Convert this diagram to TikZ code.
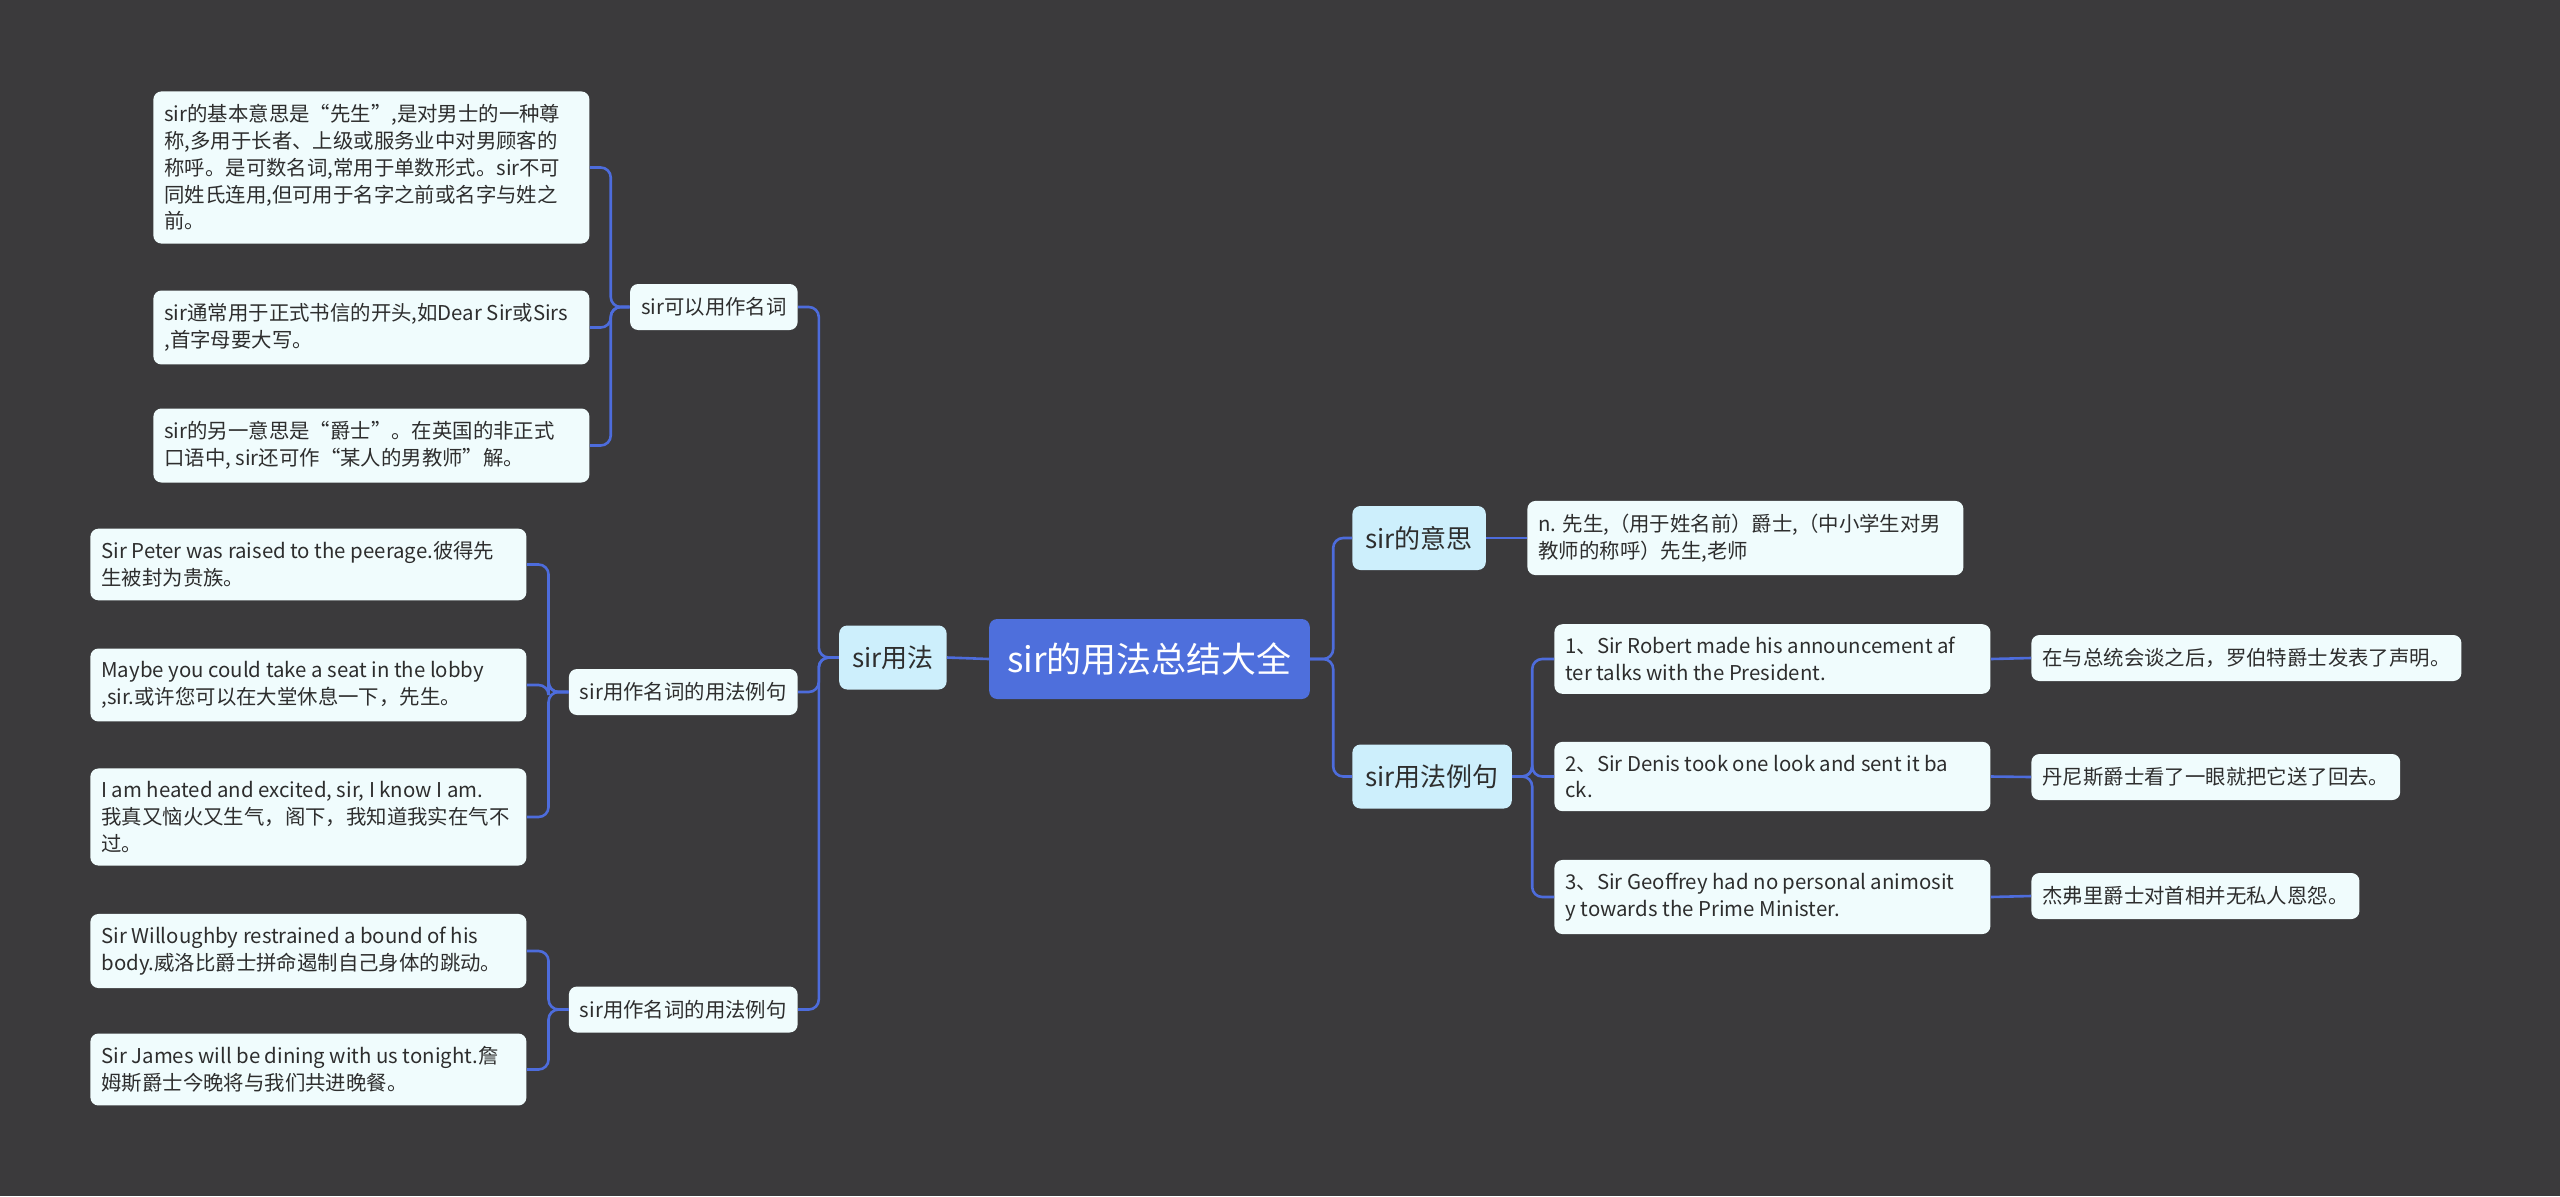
\documentclass[tikz,border=0pt]{standalone}
\usepackage{fontspec}
\setmainfont{Noto Sans CJK SC}

\definecolor{bgdark}{HTML}{3B3A3C}
\definecolor{rootblue}{HTML}{4E6FDC}
\definecolor{topicblue}{HTML}{CDEFFC}
\definecolor{leafwhite}{HTML}{F0FCFD}
\definecolor{linkblue}{HTML}{4D6CDC}
\definecolor{inkgray}{HTML}{2E2E2E}

\tikzset{
  root/.style={fill=rootblue, text=white, rounded corners=4pt, minimum height=40pt,
    inner xsep=9pt, font=\fontsize{17.5}{21}\selectfont},
  topic/.style={fill=topicblue, text=inkgray, rounded corners=4pt, minimum height=32pt,
    inner xsep=6.5pt, font=\fontsize{13}{16}\selectfont},
  sub/.style={fill=leafwhite, text=inkgray, rounded corners=4pt, minimum height=23pt,
    inner xsep=5.5pt, font=\fontsize{10.2}{13.4}\selectfont},
  leaf/.style={sub, text width=207pt, align=flush left, inner ysep=6.5pt},
  link/.style={draw=linkblue, line width=1.3pt, rounded corners=5pt},
}

\begin{document}
\begin{tikzpicture}[x=0.5pt, y=-0.5pt]
  % Background
  \fill[bgdark] (0,0) rectangle (2560,1196);
  \useasboundingbox (0,0) rectangle (2560,1196);

  % Root and main topics
  \node[root] (root) at (1149.5,659) {sir的用法总结大全};
  \node[topic, anchor=east] (usage) at (947,657.5) {sir用法};
  \node[topic, anchor=west] (meaning) at (1352,538) {sir的意思};
  \node[topic, anchor=west] (examples) at (1352,776.5) {sir用法例句};

  % Left subtopics
  \node[sub, anchor=east] (noun) at (798,307) {sir可以用作名词};
  \node[sub, anchor=east] (nounex1) at (798,692) {sir用作名词的用法例句};
  \node[sub, anchor=east] (nounex2) at (798,1009.5) {sir用作名词的用法例句};

  % Leaves under sir可以用作名词
  \node[leaf, anchor=west] (noun1) at (153,167.5) {sir的基本意思是“先生”,是对男士的一种尊\\称,多用于长者、上级或服务业中对男顾客的\\称呼。是可数名词,常用于单数形式。sir不可\\同姓氏连用,但可用于名字之前或名字与姓之\\前。};
  \node[leaf, anchor=west] (noun2) at (153,327.5) {sir通常用于正式书信的开头,如Dear Sir或Sirs\\,首字母要大写。};
  \node[leaf, anchor=west] (noun3) at (153,445.5) {sir的另一意思是“爵士”。在英国的非正式\\口语中, sir还可作“某人的男教师”解。};

  % Leaves under first example group
  \node[leaf, anchor=west] (peter) at (90,564.5) {Sir Peter was raised to the peerage.彼得先\\生被封为贵族。};
  \node[leaf, anchor=west] (lobby) at (90,685) {Maybe you could take a seat in the lobby\\,sir.或许您可以在大堂休息一下，先生。};
  \node[leaf, anchor=west] (heated) at (90,817) {I am heated and excited, sir, I know I am.\\我真又恼火又生气，阁下，我知道我实在气不\\过。};

  % Leaves under second example group
  \node[leaf, anchor=west] (willoughby) at (90,951) {Sir Willoughby restrained a bound of his\\body.威洛比爵士拼命遏制自己身体的跳动。};
  \node[leaf, anchor=west] (james) at (90,1069.5) {Sir James will be dining with us tonight.詹\\姆斯爵士今晚将与我们共进晚餐。};

  % Right side
  \node[leaf, anchor=west] (define) at (1527,538) {n. 先生,（用于姓名前）爵士,（中小学生对男\\教师的称呼）先生,老师};
  \node[leaf, anchor=west] (robert) at (1554,659) {1、Sir Robert made his announcement af\\ter talks with the President.};
  \node[leaf, anchor=west] (denis) at (1554,776.5) {2、Sir Denis took one look and sent it ba\\ck.};
  \node[leaf, anchor=west] (geoffrey) at (1554,897) {3、Sir Geoffrey had no personal animosit\\y towards the Prime Minister.};
  \node[sub, anchor=west] (robertcn) at (2031,658) {在与总统会谈之后，罗伯特爵士发表了声明。};
  \node[sub, anchor=west] (deniscn) at (2031,777) {丹尼斯爵士看了一眼就把它送了回去。};
  \node[sub, anchor=west] (geoffreycn) at (2031,896) {杰弗里爵士对首相并无私人恩怨。};

  % Connectors, left
  \draw[link] (root.west) -- (usage.east);
  \foreach \n in {noun,nounex1,nounex2}
    \draw[link] (usage.west) -- ++(-20,0) |- (\n.east);
  \foreach \n in {noun1,noun2,noun3}
    \draw[link] (noun.west) -- ++(-19,0) |- (\n.east);
  \foreach \n in {peter,lobby,heated}
    \draw[link] (nounex1.west) -- ++(-20,0) |- (\n.east);
  \foreach \n in {willoughby,james}
    \draw[link] (nounex2.west) -- ++(-20,0) |- (\n.east);

  % Connectors, right
  \foreach \n in {meaning,examples}
    \draw[link] (root.east) -- ++(23,0) |- (\n.west);
  \draw[link] (meaning.east) -- (define.west);
  \foreach \n in {robert,denis,geoffrey}
    \draw[link] (examples.east) -- ++(20,0) |- (\n.west);
  \draw[link] (robert.east) -- (robertcn.west);
  \draw[link] (denis.east) -- (deniscn.west);
  \draw[link] (geoffrey.east) -- (geoffreycn.west);
\end{tikzpicture}
\end{document}
